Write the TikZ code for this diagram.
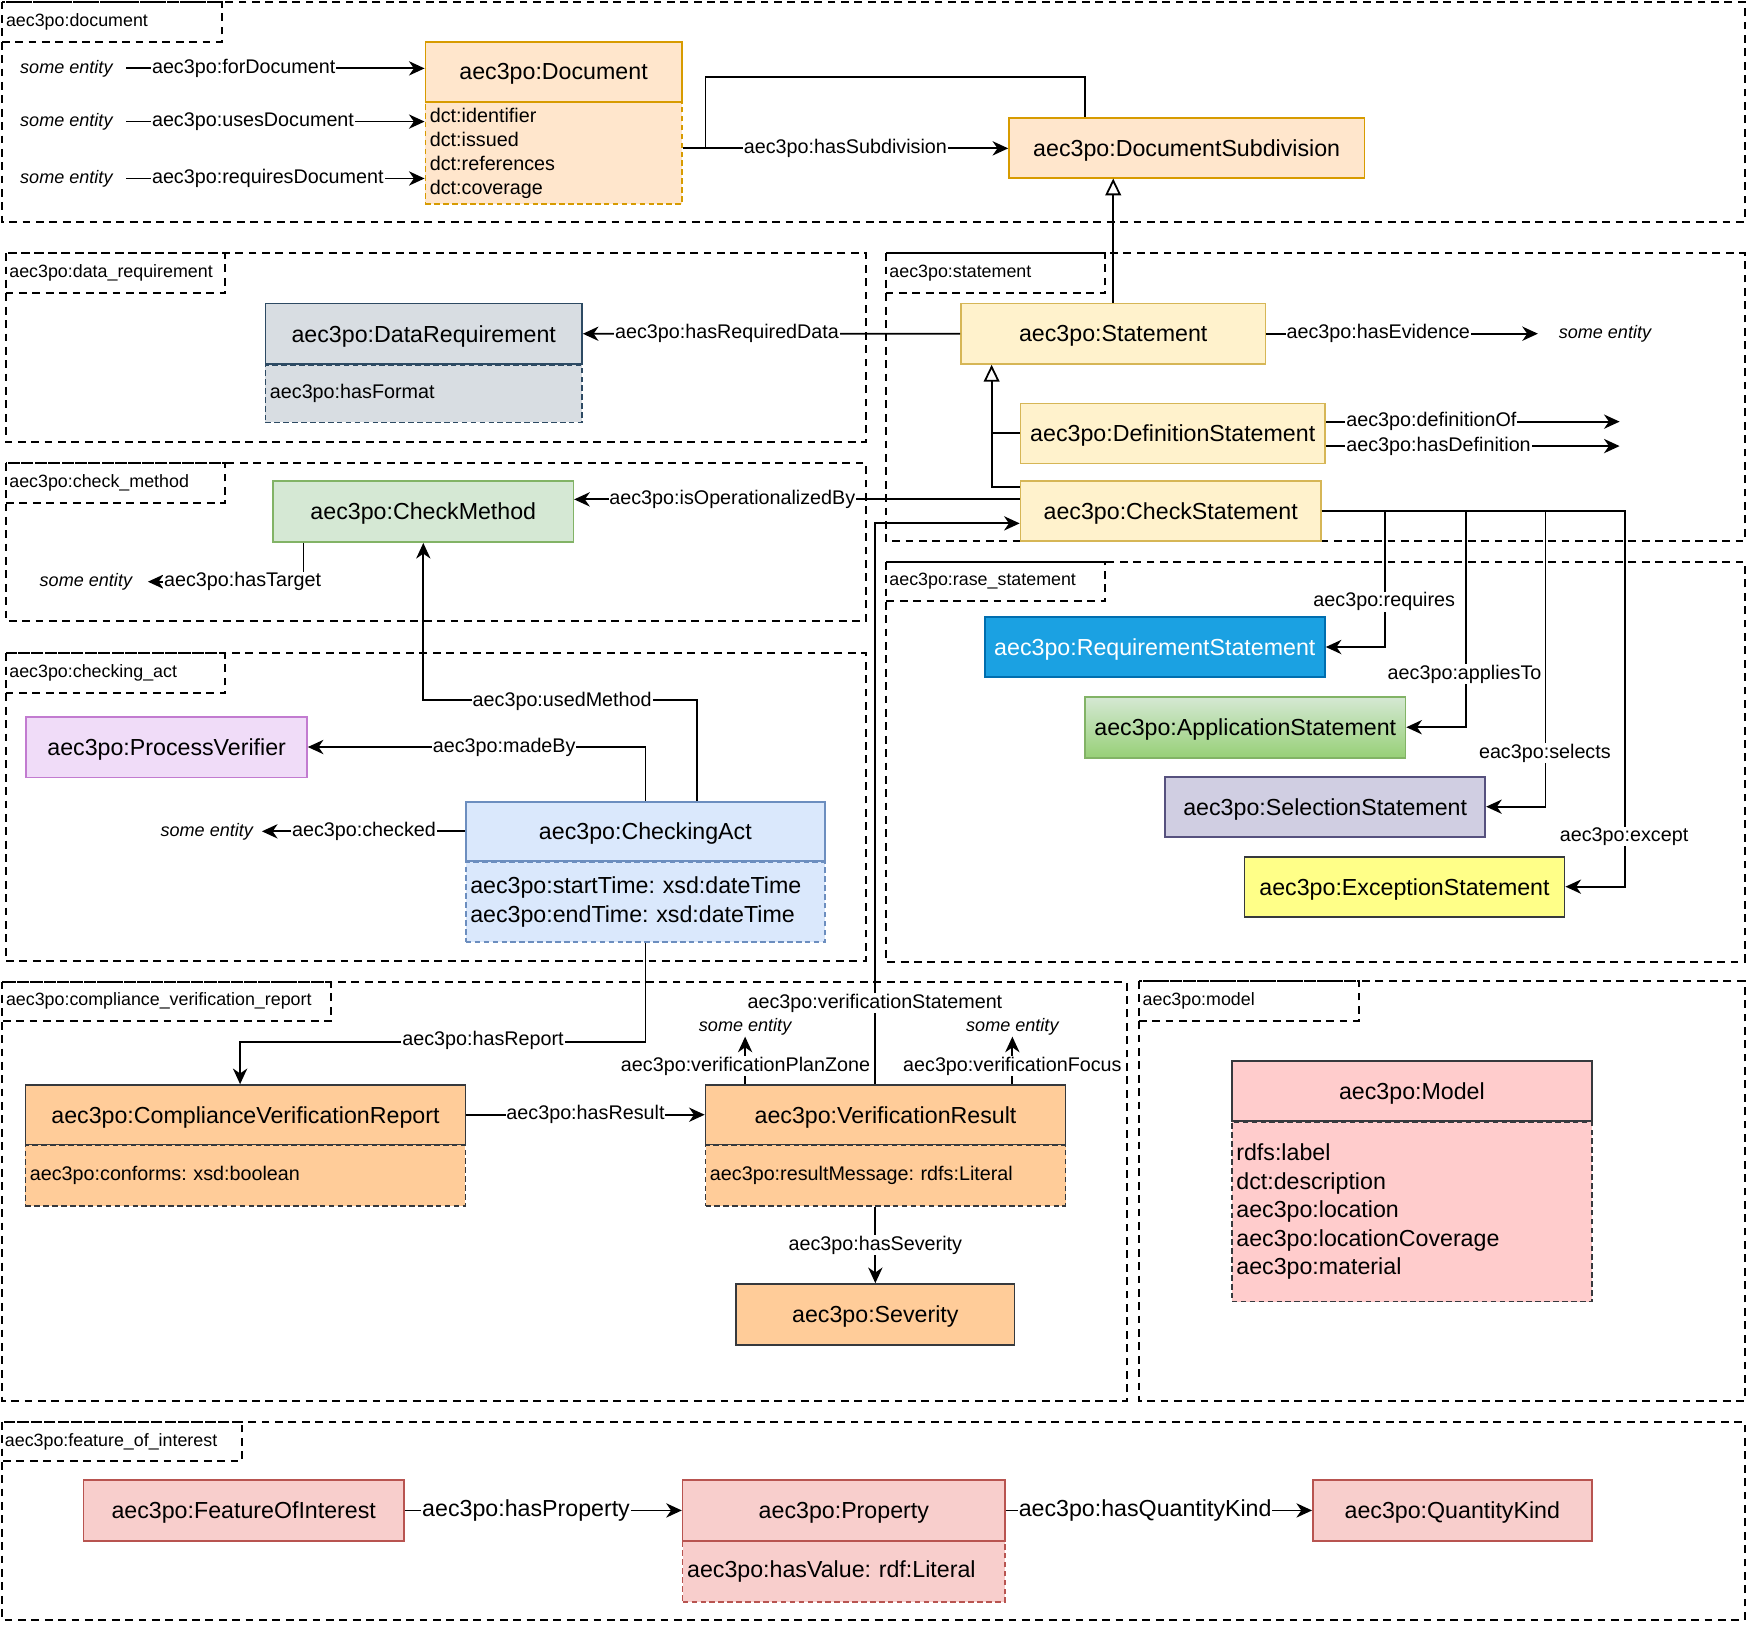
\documentclass[tikz,border=0pt]{standalone}
\usepackage{fontspec}
\setmainfont{Liberation Sans}
\usetikzlibrary{arrows.meta}
\frenchspacing

\definecolor{docfill}{HTML}{FFE6CC}
\definecolor{docdraw}{HTML}{D79B00}
\definecolor{drfill}{HTML}{D8DDE2}
\definecolor{drdraw}{HTML}{2D4A63}
\definecolor{stfill}{HTML}{FFF2CC}
\definecolor{stdraw}{HTML}{D6B656}
\definecolor{cmfill}{HTML}{D5E8D4}
\definecolor{cmdraw}{HTML}{82B366}
\definecolor{appdark}{HTML}{97D077}
\definecolor{reqfill}{HTML}{1BA1E2}
\definecolor{reqdraw}{HTML}{006EAF}
\definecolor{selfill}{HTML}{D0CEE2}
\definecolor{seldraw}{HTML}{56517E}
\definecolor{excfill}{HTML}{FFFF88}
\definecolor{darkdraw}{HTML}{36393D}
\definecolor{pvfill}{HTML}{F0DCF8}
\definecolor{pvdraw}{HTML}{C27BD0}
\definecolor{cafill}{HTML}{DAE8FC}
\definecolor{cadraw}{HTML}{6C8EBF}
\definecolor{orfill}{HTML}{FFCC99}
\definecolor{mdfill}{HTML}{FFCCCC}
\definecolor{foifill}{HTML}{F8CECC}
\definecolor{foidraw}{HTML}{B85450}

\tikzset{
  grp/.style={draw=black, dash pattern=on 3.5pt off 2.5pt, line width=0.9pt},
  grplbl/.style={font=\fontsize{8}{9.6}\selectfont, anchor=west, inner sep=0pt},
  cls/.style={draw, line width=0.75pt, inner sep=0pt, text depth=0pt, font=\fontsize{10.4}{12.8}\selectfont},
  attr/.style={draw, dash pattern=on 2.5pt off 1.5pt, line width=0.75pt, anchor=north,
    align=left, inner xsep=2pt, inner ysep=0pt, font=\fontsize{8.85}{10.7}\selectfont},
  big/.style={font=\fontsize{10.4}{12.8}\selectfont},
  lbl/.style={fill=white, inner sep=0.4pt, font=\fontsize{8.85}{10.7}\selectfont},
  ent/.style={inner sep=0.5pt, font=\fontsize{8.1}{9.7}\selectfont\itshape},
  arr/.style={-{Stealth[length=7pt,width=6.4pt,inset=2.2pt]}, line width=0.8pt},
  gen/.style={-{Triangle[length=7.5pt,width=7pt,fill=white]}, line width=0.8pt},
}

\begin{document}
\begin{tikzpicture}[x=0.5pt,y=-0.5pt]
\fill[white] (0,0) rectangle (1568,1457);
\useasboundingbox (0,0) rectangle (1568,1457);

% groups
\draw[grp] (1.5,1.5) rectangle (1564,198.7);
\draw[grp] (1.5,1.5) rectangle (199,37.4);
\node[grplbl] (gdoc) at (5,19.5) {aec3po:document};
\draw[grp] (5,227) rectangle (776.4,396);
\draw[grp] (5,227) rectangle (202,263);
\node[grplbl] (gdr) at (8,245) {aec3po:data\_requirement};
\draw[grp] (793.9,227) rectangle (1564,485);
\draw[grp] (793.9,227) rectangle (990.7,263);
\node[grplbl] (gst) at (797,245) {aec3po:statement};
\draw[grp] (5,415.4) rectangle (776.4,556.5);
\draw[grp] (5,415.4) rectangle (202,451);
\node[grplbl] (gcm) at (8,433.2) {aec3po:check\_method};
\draw[grp] (5,585.7) rectangle (776.4,861.3);
\draw[grp] (5,585.7) rectangle (202,621.6);
\node[grplbl] (gca) at (8,603.6) {aec3po:checking\_act};
\draw[grp] (793.9,503.6) rectangle (1564,862);
\draw[grp] (793.9,503.6) rectangle (990.7,538.8);
\node[grplbl] (grs) at (797,521.2) {aec3po:rase\_statement};
\draw[grp] (2,880) rectangle (1010,1256);
\draw[grp] (2,880) rectangle (296.7,915.4);
\node[grplbl] (gcvr) at (5,897.7) {aec3po:compliance\_verification\_report};
\draw[grp] (1020.9,879.5) rectangle (1564,1256);
\draw[grp] (1020.9,879.5) rectangle (1218.4,915.4);
\node[grplbl] (gmd) at (1024,897.5) {aec3po:model};
\draw[grp] (2,1274.6) rectangle (1564,1452.4);
\draw[grp] (2,1274.6) rectangle (217,1309.9);
\node[grplbl] (gfoi) at (4,1292.2) {aec3po:feature\_of\_interest};

% attribute parts
\node[attr, fill=docfill, draw=docdraw, text width=110.9pt, minimum height=45.55pt] (docA) at (496.3,91.2) {dct:identifier\\dct:issued\\dct:references\\dct:coverage};
\node[attr, fill=drfill, draw=drdraw, text width=137.9pt, minimum height=25.8pt] (dreqA) at (379.9,326.4) {aec3po:hasFormat};
\node[attr, big, fill=cafill, draw=cadraw, text width=157pt, minimum height=35.9pt] (caA) at (578.6,771.9) {aec3po:startTime: xsd:dateTime\\aec3po:endTime: xsd:dateTime};
\node[attr, fill=orfill, draw=darkdraw, text width=193.25pt, minimum height=27.15pt] (cvrA) at (220.05,1026) {aec3po:conforms: xsd:boolean};
\node[attr, fill=orfill, draw=darkdraw, text width=157.4pt, minimum height=27.15pt] (vrA) at (793.9,1026) {aec3po:resultMessage: rdfs:Literal};
\node[attr, big, fill=mdfill, draw=darkdraw, text width=157.4pt, minimum height=80.55pt] (mdA) at (1265.8,1005) {rdfs:label\\dct:description\\aec3po:location\\aec3po:locationCoverage\\aec3po:material};
\node[attr, big, fill=foifill, draw=foidraw, text width=140.5pt, minimum height=27.05pt] (propA) at (756.5,1381.3) {aec3po:hasValue: rdf:Literal};

% classes
\node[cls, fill=docfill, draw=docdraw, minimum width=114.9pt, minimum height=26.9pt] (doc) at (496.3,64.3) {aec3po:Document};
\node[cls, fill=docfill, draw=docdraw, minimum width=159.3pt, minimum height=26.9pt] (docsub) at (1063.9,132.4) {aec3po:DocumentSubdivision};
\node[cls, fill=drfill, draw=drdraw, minimum width=141.9pt, minimum height=27.2pt] (dreq) at (379.9,299.2) {aec3po:DataRequirement};
\node[cls, fill=stfill, draw=stdraw, minimum width=136.45pt, minimum height=27.15pt] (stmt) at (998,299.15) {aec3po:Statement};
\node[cls, fill=stfill, draw=stdraw, minimum width=136.45pt, minimum height=26.9pt] (defst) at (1051.35,388.5) {aec3po:DefinitionStatement};
\node[cls, fill=stfill, draw=stdraw, minimum width=134.65pt, minimum height=26.9pt] (chkst) at (1049.55,458.1) {aec3po:CheckStatement};
\node[cls, fill=cmfill, draw=cmdraw, minimum width=134.5pt, minimum height=27.4pt] (cm) at (379.5,458.6) {aec3po:CheckMethod};
\node[cls, fill=reqfill, draw=reqdraw, text=white, minimum width=152.5pt, minimum height=27.15pt] (reqst) at (1035.3,580.05) {aec3po:RequirementStatement};
\node[cls, top color=cmfill, bottom color=appdark, draw=cmdraw, minimum width=143.6pt, minimum height=27.35pt] (appst) at (1116.4,651.95) {aec3po:ApplicationStatement};
\node[cls, fill=selfill, draw=seldraw, minimum width=143.55pt, minimum height=26.9pt] (selst) at (1188.05,723.2) {aec3po:SelectionStatement};
\node[cls, fill=excfill, draw=darkdraw, minimum width=143.55pt, minimum height=26.9pt] (excst) at (1259.15,794.9) {aec3po:ExceptionStatement};
\node[cls, fill=pvfill, draw=pvdraw, minimum width=125.8pt, minimum height=27.2pt] (pv) at (149.4,669.7) {aec3po:ProcessVerifier};
\node[cls, fill=cafill, draw=cadraw, minimum width=161pt, minimum height=26.6pt] (ca) at (578.6,745.3) {aec3po:CheckingAct};
\node[cls, fill=orfill, draw=darkdraw, minimum width=197.25pt, minimum height=26.65pt] (cvr) at (220.05,999.35) {aec3po:ComplianceVerificationReport};
\node[cls, fill=orfill, draw=darkdraw, minimum width=161.4pt, minimum height=26.65pt] (vr) at (793.9,999.35) {aec3po:VerificationResult};
\node[cls, fill=orfill, draw=darkdraw, minimum width=124.85pt, minimum height=27.35pt] (sev) at (784.75,1178.45) {aec3po:Severity};
\node[cls, fill=mdfill, draw=darkdraw, minimum width=161.4pt, minimum height=27pt] (md) at (1265.8,978) {aec3po:Model};
\node[cls, fill=foifill, draw=foidraw, minimum width=143.5pt, minimum height=27.2pt] (foi) at (218.5,1354.1) {aec3po:FeatureOfInterest};
\node[cls, fill=foifill, draw=foidraw, minimum width=144.5pt, minimum height=27.2pt] (prop) at (756.5,1354.1) {aec3po:Property};
\node[cls, fill=foifill, draw=foidraw, minimum width=125pt, minimum height=27.2pt] (qk) at (1302,1354.1) {aec3po:QuantityKind};

% other ends
\node[ent] (se1) at (59.5,61.3) {some entity};
\node[ent] (se2) at (59.5,109) {some entity};
\node[ent] (se3) at (59.5,160) {some entity};
\node[ent] (evEnt) at (1438.85,299.15) {some entity};
\node[ent] (tgtEnt) at (77,521.5) {some entity};
\node[ent] (chkEnt) at (185.4,745.3) {some entity};
\node[ent] (pzEnt) at (668,920.4) {some entity};
\node[ent] (fcEnt) at (907.6,920.4) {some entity};
\coordinate (sdJ) at (632.5,133);
\coordinate (dOf) at (1452,378);
\coordinate (hDef) at (1452,399.9);
\coordinate (gtip) at ([xshift=-54.5pt]stmt.south);
\coordinate (opS) at ([yshift=5.2pt]chkst.west);
\coordinate (vsE) at ([yshift=-5.55pt]chkst.west);
\coordinate (vsS) at ([xshift=-4.75pt]vr.north);

% document
\draw[arr] ([xshift=5.5pt]se1.east) -- (se1.east -| doc.west) node[lbl, pos=0.08, anchor=west] (lfor) {aec3po:forDocument};
\draw[arr] ([xshift=5.5pt]se2.east) -- (se2.east -| doc.west) node[lbl, pos=0.08, anchor=west] (luses) {aec3po:usesDocument};
\draw[arr] ([xshift=5.5pt]se3.east) -- (se3.east -| doc.west) node[lbl, pos=0.08, anchor=west] (lreqd) {aec3po:requiresDocument};
\draw[line width=0.8pt] ([xshift=-45.45pt]docsub.north) -- ++(0,-35.9) -| (sdJ);
\draw[arr] (docA.east |- sdJ) -- (docsub.west |- sdJ) node[lbl, pos=0.5] (lsub) {aec3po:hasSubdivision};

% statement
\draw[gen] (stmt.north) -- (stmt.north |- docsub.south);
\draw[arr] (stmt.west) -- (dreq.east) node[lbl, pos=0.618] (lrd) {aec3po:hasRequiredData};
\draw[arr, shorten >=8.65pt] (stmt.east) -- (evEnt.west) node[lbl, pos=0.385] (lev) {aec3po:hasEvidence};
\draw[gen] ([yshift=10.6pt]chkst.west) -| (gtip);
\draw[line width=0.8pt] (defst.west) -- (defst.west -| gtip);
\draw[arr] (dOf -| defst.east) -- (dOf) node[lbl, pos=0.064, anchor=west] (ldof) {aec3po:definitionOf};
\draw[arr] (hDef -| defst.east) -- (hDef) node[lbl, pos=0.064, anchor=west] (lhdef) {aec3po:hasDefinition};
\draw[arr] (opS) -- (opS -| cm.east) node[lbl, pos=0.645] (lop) {aec3po:isOperationalizedBy};
\draw[arr] (vsS) |- (vsE) node[lbl, pos=0.072] (lvs) {aec3po:verificationStatement};

% rase
\draw[arr] (chkst.east) -| ([xshift=26.6pt]reqst.east) -- (reqst.east);
\draw[arr] (chkst.east) -| ([xshift=26.6pt]appst.east) -- (appst.east);
\draw[arr] (chkst.east) -| ([xshift=26.6pt]selst.east) -- (selst.east);
\draw[arr] (chkst.east) -| ([xshift=26.6pt]excst.east) -- (excst.east);
\node[lbl] (lreq) at (1241,539.4) {aec3po:requires};
\node[lbl] (lapp) at (1313,604.3) {aec3po:appliesTo};
\node[lbl] (lsel) at (1385,675.4) {eac3po:selects};
\node[lbl] (lexc) at (1456,750) {aec3po:except};

% check method, checking act
\draw[arr, shorten >=6.4pt] ([xshift=-53.75pt]cm.south) |- (tgtEnt.east);
\node[lbl] (ltg) at (217.5,521.5) {aec3po:hasTarget};
\draw[arr] ([xshift=23.15pt]ca.north) -- ++(0,-90.2) -| (cm.south);
\node[lbl] (lum) at (504,628.5) {aec3po:usedMethod};
\draw[arr] (ca.north) |- (pv.east);
\node[lbl] (lmb) at (452,670) {aec3po:madeBy};
\draw[arr, shorten >=3.3pt] (ca.west) -- (chkEnt.east) node[lbl, pos=0.48] (lchk) {aec3po:checked};

% report
\draw[arr] (caA.south) -- ++(0,89.3) -| ([xshift=-2.4pt]cvr.north);
\node[lbl] (lrep) at (433,933) {aec3po:hasReport};
\draw[arr] (cvr.east) -- (vr.west) node[lbl, pos=0.5] (lres) {aec3po:hasResult};
\draw[arr] (pzEnt.south |- vr.north) -- (pzEnt.south);
\node[lbl] (lpz) at (668.4,955.7) {aec3po:verificationPlanZone};
\draw[arr] (fcEnt.south |- vr.north) -- (fcEnt.south);
\node[lbl] (lfc) at (907.6,955.7) {aec3po:verificationFocus};
\draw[arr] (sev.north |- vrA.south) -- (sev.north) node[lbl, pos=0.5] (lsev) {aec3po:hasSeverity};

% feature of interest
\draw[arr] (foi.east) -- (prop.west) node[lbl, big, pos=0.438] (lprop) {aec3po:hasProperty};
\draw[arr] (prop.east) -- (qk.west) node[lbl, big, pos=0.455] (lqk) {aec3po:hasQuantityKind};
\end{tikzpicture}
\end{document}
